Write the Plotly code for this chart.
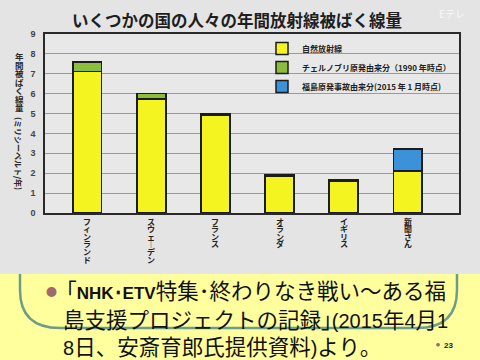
import plotly.graph_objects as go

categories = ["フィンランド", "スウェーデン", "フランス", "オランダ", "イギリス", "新聞さん"]
natural = [7.12, 5.74, 4.9, 1.85, 1.6, 2.1]
chernobyl = [0.48, 0.26, 0.08, 0.08, 0.08, 0.0]
fukushima = [0.0, 0.0, 0.0, 0.0, 0.0, 1.12]
series_names = ["自然放射線", "チェルノブリ原発由来分（1990 年時点）", "福島原発事故由来分(2015 年 1 月時点)"]
series_colors = ["#f4f421", "#8dbd3c", "#3b92d9"]
yticks = list(range(0, 10))

title_text = "いくつかの国の人々の年間放射線被ばく線量"
ylabel_upright = "年間被ばく線量"
ylabel_paren = "(ミリシーベルト/年)"
LAT = "<span style=\"font-family:'Liberation Sans Narrow','Liberation Sans';font-size:20px\">{}</span>"
LATB = "<span style=\"font-family:'Liberation Sans Narrow','Liberation Sans';font-size:17px\"><b>{}</b></span>"
note_lines = ["｢" + LATB.format("NHK･ETV") + "特集･終わりなき戦い〜ある福",
              "島支援プロジェクトの記録｣" + LAT.format("(2015") + "年" + LAT.format("4") + "月" + LAT.format("1"),
              LAT.format("8") + "日、安斎育郎氏提供資料" + LAT.format(")") + "より｡"]
page_no = "23"

W, H = 480, 360
L, R, T, B = 45, 459, 34, 213
FONT = "Noto Sans CJK JP"


def px2x(px):
    return (px - L) / (R - L)


def py2y(py):
    return (B - py) / (B - T)


fig = go.Figure()
for name, vals, col in zip(series_names, [natural, chernobyl, fukushima], series_colors):
    fig.add_trace(go.Bar(
        x=categories, y=vals, name=f"<b>{name}</b>", width=0.45,
        marker=dict(color=col, line=dict(color="#1c1c1c", width=1.5)),
    ))

annotations = []
annotations.append(dict(text=f"<b>{title_text}</b>", x=px2x(237), y=py2y(20), xref="paper", yref="paper",
                        showarrow=False, font=dict(family=FONT, size=16.5, color="#1e1e1e"),
                        xanchor="center", yanchor="middle"))
annotations.append(dict(text="Eテレ", x=px2x(452), y=py2y(14), xref="paper", yref="paper",
                        showarrow=False, font=dict(family=FONT, size=10, color="rgba(255,255,255,0.75)"),
                        xanchor="center", yanchor="middle"))
for i, ch in enumerate(ylabel_upright):
    annotations.append(dict(text=f"<b>{ch}</b>", x=px2x(19), y=py2y(56 + i * 8.5), xref="paper", yref="paper",
                            showarrow=False, font=dict(family=FONT, size=8.5, color="#2a2a2a"),
                            xanchor="center", yanchor="middle"))
annotations.append(dict(text=f"<b>{ylabel_paren}</b>", x=px2x(19), y=py2y(153), xref="paper", yref="paper",
                        showarrow=False, textangle=90, font=dict(family=FONT, size=8, color="#2a2a2a"),
                        xanchor="center", yanchor="middle"))
for cat in categories:
    for i, ch in enumerate(cat):
        if ch == "ー":
            ch = "｜"
        annotations.append(dict(text=f"<b>{ch}</b>", x=cat, y=py2y(221 + i * 7.6), xref="x", yref="paper",
                                showarrow=False, font=dict(family=FONT, size=8, color="#222222"),
                                xanchor="center", yanchor="middle"))
annotations.append(dict(text="●", x=px2x(51), y=py2y(291), xref="paper", yref="paper", showarrow=False,
                        font=dict(family=FONT, size=11, color="#a06a6a"), xanchor="center", yanchor="middle"))
for (txt, xs, ys) in zip(note_lines, [64, 61, 61], [289, 318, 345]):
    annotations.append(dict(text=txt, x=px2x(xs), y=py2y(ys), xref="paper", yref="paper", showarrow=False,
                            font=dict(family=FONT, size=21.5, color="#111111"), xanchor="left", yanchor="middle"))
annotations.append(dict(text=f"<b>{page_no}</b>", x=px2x(442), y=py2y(345), xref="paper", yref="paper",
                        showarrow=False, font=dict(family="Liberation Sans", size=8, color="#222222"),
                        xanchor="left", yanchor="middle"))
annotations.append(dict(text="●", x=px2x(438), y=py2y(345), xref="paper", yref="paper", showarrow=False,
                        font=dict(family=FONT, size=4, color="#a06a6a"), xanchor="center", yanchor="middle"))

shapes = [
    dict(type="rect", xref="paper", yref="paper", x0=px2x(0), x1=px2x(W), y0=py2y(274), y1=py2y(H),
         fillcolor="#ffff9e", line=dict(width=0), layer="below"),
    dict(type="path", xref="paper", yref="paper",
         path=(f"M {px2x(20)},{py2y(274)} L {px2x(20)},{py2y(290)} "
               f"Q {px2x(20)},{py2y(328)} {px2x(60)},{py2y(328)} "
               f"L {px2x(417)},{py2y(328)} Q {px2x(457)},{py2y(328)} {px2x(457)},{py2y(290)} "
               f"L {px2x(457)},{py2y(274)}"),
         line=dict(color="#6e9c8c", width=2.5), layer="below"),
]

fig.update_layout(
    width=W, height=H,
    margin=dict(l=L, r=W - R, t=T, b=H - B, pad=0),
    paper_bgcolor="#e4e4e4", plot_bgcolor="#e8e8e8",
    barmode="stack",
    showlegend=True,
    legend=dict(x=px2x(262), y=1.0, xanchor="left", yanchor="top", traceorder="normal",
                bgcolor="rgba(0,0,0,0)", font=dict(family=FONT, size=8, color="#222222"),
                tracegroupgap=0),
    annotations=annotations, shapes=shapes,
    font=dict(family=FONT),
)
fig.update_xaxes(range=[-0.66, 5.8], showticklabels=False, showgrid=False, ticks="",
                 showline=True, linecolor="#2a2a2a", linewidth=1.5, mirror=True, zeroline=False)
fig.update_yaxes(range=[0, 9], tickvals=yticks, ticktext=[f"<b>{v}</b>" for v in yticks], showgrid=True,
                 gridcolor="#9a9a9a", gridwidth=1, ticks="", zeroline=False,
                 showline=True, linecolor="#2a2a2a", linewidth=1.5, mirror=True,
                 tickfont=dict(family="Liberation Sans", size=9, color="#454545"), ticklabelstandoff=6)

fig.write_html("out.html", config={"displayModeBar": False},
               post_script="document.body.style.margin='0';document.body.style.padding='0';")
